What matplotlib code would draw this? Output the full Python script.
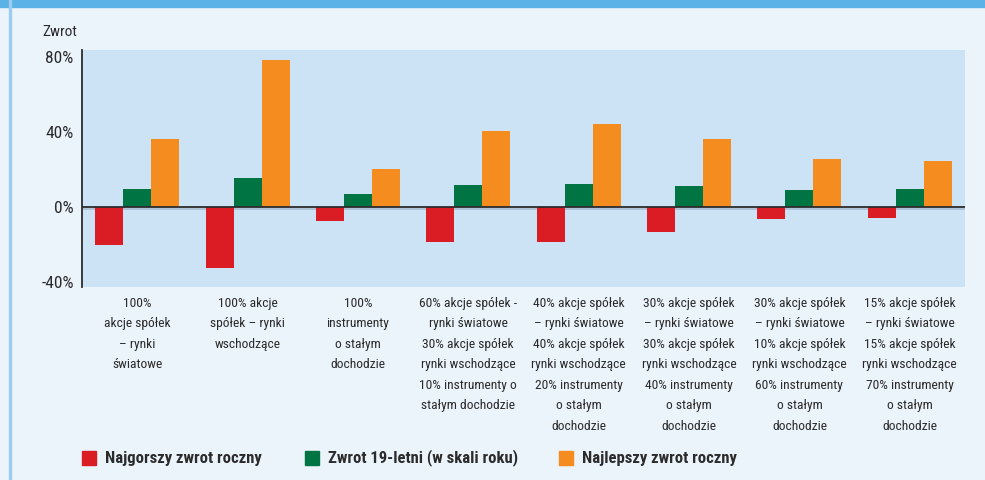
import matplotlib
matplotlib.use('Agg')
import matplotlib.pyplot as plt
import matplotlib.patches as mpatches
import numpy as np

plt.rcParams['font.family'] = ['Roboto Condensed', 'Liberation Sans Narrow', 'Lato', 'DejaVu Sans']

categories = [
    '100%\nakcje spółek\n– rynki\nświatowe',
    '100% akcje\nspółek – rynki\nwschodzące',
    '100%\ninstrumenty\no stałym\ndochodzie',
    '60% akcje spółek -\nrynki światowe\n30% akcje spółek\nrynki wschodzące\n10% instrumenty o\nstałym dochodzie',
    '40% akcje spółek\n– rynki światowe\n40% akcje spółek\nrynki wschodzące\n20% instrumenty\no stałym\ndochodzie',
    '30% akcje spółek\n– rynki światowe\n30% akcje spółek\nrynki wschodzące\n40% instrumenty\no stałym\ndochodzie',
    '30% akcje spółek\n– rynki światowe\n10% akcje spółek\nrynki wschodzące\n60% instrumenty\no stałym\ndochodzie',
    '15% akcje spółek\n– rynki światowe\n15% akcje spółek\nrynki wschodzące\n70% instrumenty\no stałym\ndochodzie',
]
worst = [-20, -32.4, -7.3, -18.5, -18.5, -13.2, -6.2, -5.7]
avg19 = [9.8, 15.6, 7.1, 11.9, 12.4, 11.3, 9.2, 9.8]
best = [36.4, 78.6, 20.4, 40.7, 44.4, 36.4, 25.8, 24.7]
series_names = ['Najgorszy zwrot roczny', 'Zwrot 19-letni (w skali roku)', 'Najlepszy zwrot roczny']
colors = ['#DA1C25', '#007442', '#F58C1F']
yticks = [-40, 0, 40, 80]

fig = plt.figure(figsize=(9.85, 4.8), dpi=100)
fig.patch.set_facecolor('#EBF3FB')
# top band and left border
fig.patches.append(mpatches.Rectangle((0, 1 - 7/480), 1, 7/480, transform=fig.transFigure,
                                      color='#5AB2E6', zorder=0))
fig.patches.append(mpatches.Rectangle((9/985, 0), 2/985, 1, transform=fig.transFigure,
                                      color='#9CCDEE', zorder=0))

ax = fig.add_axes([82/985, 1 - 287/480, 883/985, 237/480])
ax.set_facecolor('#CCE2F5')

x = np.arange(len(categories))
w = 0.254
for i, (vals, c) in enumerate(zip([worst, avg19, best], colors)):
    ax.bar(x + (i - 1) * w, vals, w, color=c, zorder=2)

ax.axhline(0, color='#2B2B2B', lw=1.3, zorder=3)
ax.axhline(-1.0, color='#A9BFD4', lw=1.2, zorder=1)

ax.set_xlim(-0.5, len(categories) - 0.5)
ax.set_ylim(-42.5, 83.9)
ax.set_yticks(yticks)
ax.set_yticklabels([f'{v}%' for v in yticks], fontsize=12.5, color='#2B2B2B')
ax.tick_params(axis='y', length=0, pad=6)
ax.set_xticks(x)
ax.set_xticklabels(categories, fontsize=9.7, color='#2B2B2B', linespacing=1.75, va='top')
ax.tick_params(axis='x', length=0, pad=7)
for s in ['top', 'right', 'bottom']:
    ax.spines[s].set_visible(False)
ax.spines['left'].set_color('#2B2B2B')
ax.spines['left'].set_linewidth(1.3)

fig.text(42/985, 1 - 32/480, 'Zwrot', fontsize=11, color='#2B2B2B', va='center', ha='left')

# legend
leg_x = [82, 305, 559]
for lx, name, c in zip(leg_x, series_names, colors):
    fig.patches.append(mpatches.Rectangle((lx/985, 1 - 465/480), 14/985, 14/480,
                                          transform=fig.transFigure, color=c))
    fig.text((lx + 23)/985, 1 - 458/480, name, fontsize=12, fontweight='bold',
             color='#2B2B2B', va='center', ha='left')

fig.savefig('out.png', dpi=100, facecolor=fig.get_facecolor())
